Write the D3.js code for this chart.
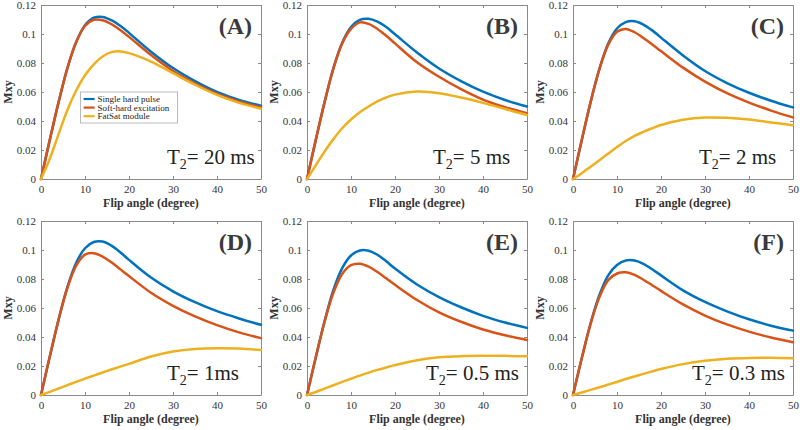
<!DOCTYPE html>
<html>
<head>
<meta charset="utf-8">
<script src="https://cdn.jsdelivr.net/npm/d3@7"></script>
<style>
  html, body { margin: 0; padding: 0; background: #fff; }
  svg { display: block; font-family: "Liberation Serif", "Times New Roman", serif; }
</style>
</head>
<body>
<svg id="chart" width="800" height="430"></svg>
<script>
// ---- data ----
const flipAngles = [0, 2, 4, 6, 8, 10, 12, 14, 16, 18, 20, 25, 30, 35, 40, 45, 50];
const panelLabels = ["(A)", "(B)", "(C)", "(D)", "(E)", "(F)"];
const t2Values = ["20 ms", "5 ms", "2 ms", "1ms", "0.5 ms", "0.3 ms"];
const seriesNames = ["Single hard pulse", "Soft-hard excitation", "FatSat module"];
const xTicks = [0, 10, 20, 30, 40, 50];
const yTicks = [0, 0.02, 0.04, 0.06, 0.08, 0.1, 0.12];
const yTickLabels = ["0", "0.02", "0.04", "0.06", "0.08", "0.1", "0.12"];

const singleHardPulse = [
  [0, 0.027, 0.053, 0.0765, 0.0945, 0.1060, 0.1112, 0.1118, 0.1095, 0.1057, 0.1008, 0.0878, 0.0765, 0.0675, 0.0600, 0.0545, 0.0505],
  [0, 0.027, 0.053, 0.0765, 0.0940, 0.1048, 0.1098, 0.1105, 0.1085, 0.1048, 0.0998, 0.0872, 0.0762, 0.0675, 0.0602, 0.0545, 0.0500],
  [0, 0.027, 0.053, 0.0760, 0.0935, 0.1038, 0.1082, 0.1088, 0.1065, 0.1025, 0.0975, 0.0852, 0.0745, 0.0662, 0.0595, 0.0540, 0.0494],
  [0, 0.0265, 0.052, 0.0745, 0.0912, 0.1012, 0.1055, 0.1058, 0.1030, 0.0985, 0.0932, 0.0810, 0.0715, 0.0640, 0.0578, 0.0528, 0.0484],
  [0, 0.026, 0.051, 0.0725, 0.0875, 0.0962, 0.0997, 0.0995, 0.0967, 0.0922, 0.0872, 0.0762, 0.0675, 0.0605, 0.0546, 0.0500, 0.0463],
  [0, 0.0255, 0.0495, 0.0690, 0.0825, 0.0897, 0.0928, 0.0928, 0.0905, 0.0867, 0.0825, 0.0722, 0.0642, 0.0577, 0.0522, 0.0478, 0.0444]
];
const softHardExcitation = [
  [0, 0.027, 0.053, 0.0765, 0.0945, 0.1055, 0.1098, 0.1095, 0.1068, 0.1028, 0.0980, 0.0855, 0.0745, 0.0660, 0.0588, 0.0535, 0.0495],
  [0, 0.027, 0.053, 0.0762, 0.0935, 0.1035, 0.1080, 0.1070, 0.1035, 0.0988, 0.0935, 0.0805, 0.0705, 0.0620, 0.0548, 0.0495, 0.0453],
  [0, 0.027, 0.053, 0.0758, 0.0925, 0.1015, 0.1035, 0.1012, 0.0972, 0.0928, 0.0882, 0.0768, 0.0672, 0.0592, 0.0527, 0.0472, 0.0425],
  [0, 0.0265, 0.052, 0.0738, 0.0893, 0.0968, 0.0978, 0.0955, 0.0915, 0.0868, 0.0820, 0.0705, 0.0615, 0.0542, 0.0482, 0.0432, 0.0392],
  [0, 0.026, 0.0505, 0.0705, 0.0835, 0.0895, 0.0905, 0.0885, 0.0848, 0.0805, 0.0760, 0.0655, 0.0570, 0.0505, 0.0452, 0.0412, 0.0380],
  [0, 0.0255, 0.049, 0.0675, 0.0792, 0.0838, 0.0846, 0.0828, 0.0795, 0.0757, 0.0718, 0.0625, 0.0548, 0.0487, 0.0437, 0.0397, 0.0364]
];
const fatSatModule = [
  [0, 0.014, 0.031, 0.0476, 0.061, 0.0715, 0.079, 0.0845, 0.0875, 0.088, 0.0868, 0.081, 0.073, 0.065, 0.058, 0.0525, 0.0485],
  [0, 0.0095, 0.019, 0.0275, 0.035, 0.041, 0.046, 0.050, 0.0535, 0.0562, 0.0582, 0.0603, 0.0592, 0.0562, 0.0525, 0.0483, 0.0441],
  [0, 0.004, 0.0085, 0.013, 0.0175, 0.022, 0.0262, 0.0298, 0.0325, 0.035, 0.0372, 0.0408, 0.0424, 0.0422, 0.041, 0.039, 0.0371],
  [0, 0.0022, 0.0045, 0.0068, 0.0091, 0.0113, 0.0134, 0.0155, 0.0176, 0.0196, 0.0215, 0.0265, 0.0300, 0.0318, 0.0323, 0.0320, 0.0310],
  [0, 0.0021, 0.0044, 0.0067, 0.009, 0.0112, 0.0134, 0.0154, 0.0173, 0.019, 0.0206, 0.024, 0.026, 0.0268, 0.027, 0.027, 0.0267],
  [0, 0.0017, 0.0035, 0.0053, 0.0072, 0.009, 0.011, 0.0128, 0.0146, 0.0163, 0.0179, 0.0213, 0.0236, 0.025, 0.0256, 0.0257, 0.0253]
];
const seriesColors = ["#0072BD", "#D95319", "#EDB120"];

// ---- layout ----
const svg = d3.select("#chart");
const colX = [41, 307, 573];
const rowY = [5, 221];
const pw = 220, ph = 174;
const allSeries = [singleHardPulse, softHardExcitation, fatSatModule];

panelLabels.forEach((lab, i) => {
  const left = colX[i % 3], top = rowY[Math.floor(i / 3)];
  const g = svg.append("g").attr("transform", `translate(${left},${top})`);
  const x = d3.scaleLinear().domain([0, 50]).range([0, pw]);
  const y = d3.scaleLinear().domain([0, 0.12]).range([ph, 0]);

  // axes (MATLAB style, ticks inward on all sides)
  const tl = 3;
  const axB = g.append("g").attr("transform", `translate(0,${ph})`)
    .call(d3.axisBottom(x).tickValues(xTicks).tickSizeInner(-tl).tickSizeOuter(0).tickPadding(6));
  const axL = g.append("g")
    .call(d3.axisLeft(y).tickValues(yTicks).tickFormat((d, k) => yTickLabels[k]).tickSizeInner(-tl).tickSizeOuter(0).tickPadding(5));
  const axT = g.append("g")
    .call(d3.axisTop(x).tickValues(xTicks).tickSizeInner(-tl).tickSizeOuter(0).tickFormat(""));
  const axR = g.append("g").attr("transform", `translate(${pw},0)`)
    .call(d3.axisRight(y).tickValues(yTicks).tickSizeInner(-tl).tickSizeOuter(0).tickFormat(""));
  [axB, axL, axT, axR].forEach(a => {
    a.attr("font-family", null);
    a.select(".domain").attr("stroke", "#8a8a8a").attr("stroke-width", 1);
    a.selectAll(".tick line").attr("stroke", "#8a8a8a");
    a.selectAll("text").attr("fill", "#333").attr("font-size", 11);
  });

  // lines
  const line = d3.line().x((d, k) => x(flipAngles[k])).y(d => y(d)).curve(d3.curveCatmullRom.alpha(0.5));
  allSeries.forEach((ser, s) => {
    g.append("path").datum(ser[i]).attr("d", line)
      .attr("fill", "none").attr("stroke", seriesColors[s]).attr("stroke-width", 2.5)
      .attr("stroke-linejoin", "round").attr("stroke-linecap", "round");
  });

  // axis labels
  g.append("text").attr("x", pw / 2).attr("y", ph + 28).attr("text-anchor", "middle")
    .attr("font-size", 12).attr("font-weight", "bold").attr("fill", "#333")
    .text("Flip angle (degree)");
  g.append("text").attr("transform", `translate(-29,${ph / 2}) rotate(-90)`)
    .attr("text-anchor", "middle").attr("font-size", 12).attr("font-weight", "bold").attr("fill", "#333")
    .text("Mxy");

  // panel label
  g.append("text").attr("x", pw - 9).attr("y", 29).attr("text-anchor", "end")
    .attr("font-size", 24).attr("font-weight", "bold").attr("fill", "#3a3a3a")
    .text(lab);

  // T2 label
  const tOff = (i === 4 || i === 5) ? 119 : 126;
  const t = g.append("text").attr("x", tOff).attr("y", ph * 0.915)
    .attr("font-size", 21).attr("fill", "#222");
  t.append("tspan").text("T");
  t.append("tspan").attr("font-size", 14).attr("dy", 5).text("2");
  t.append("tspan").attr("dy", -5).text("= " + t2Values[i]);

  // legend in first panel
  if (i === 0) {
    const lg = g.append("g").attr("transform", `translate(${x(9)},${y(0.06)})`);
    lg.append("rect").attr("x", 0).attr("y", 0).attr("width", 97).attr("height", 31)
      .attr("fill", "#fff").attr("stroke", "#aaa").attr("stroke-width", 0.8);
    seriesNames.forEach((nm, s) => {
      const yy = 7 + s * 8.6;
      lg.append("line").attr("x1", 3).attr("x2", 14).attr("y1", yy).attr("y2", yy)
        .attr("stroke", seriesColors[s]).attr("stroke-width", 2.2);
      lg.append("text").attr("x", 17).attr("y", yy + 3).attr("font-size", 9).attr("fill", "#222").text(nm);
    });
  }
});
</script>
</body>
</html>
